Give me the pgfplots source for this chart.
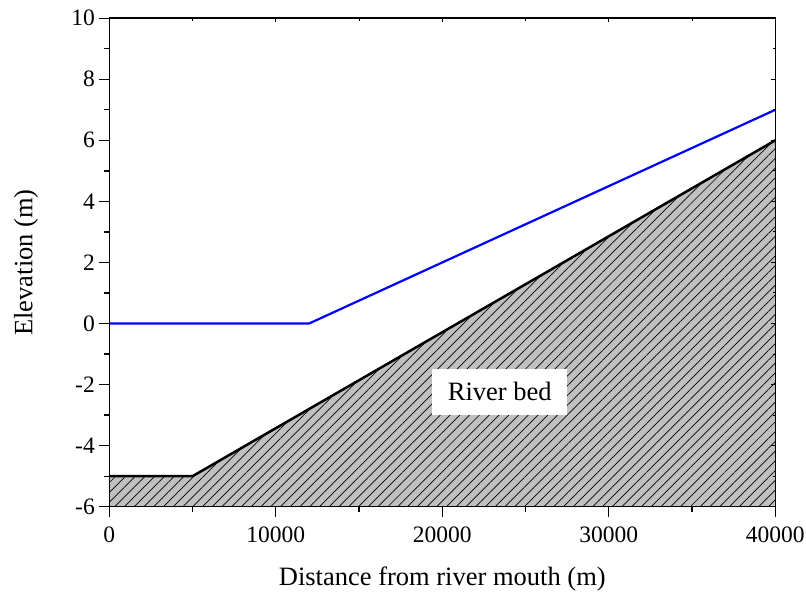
\documentclass[border=0pt]{standalone}
\usepackage{pgfplots}
\pgfplotsset{compat=1.18}
\usepackage{fontspec}
\setmainfont{Liberation Serif}
\usetikzlibrary{patterns.meta}
\definecolor{bedgray}{HTML}{C0C0C0}
\begin{document}
\begin{tikzpicture}
\pgfplotsset{
  common/.style={
    scale only axis, width=666bp, height=488.5bp,
    xmin=0, xmax=40000, ymin=-6, ymax=10,
    xtick={0,10000,20000,30000,40000},
    minor xtick={5000,15000,25000,35000},
    ytick={-6,-4,-2,0,2,4,6,8,10},
    minor ytick={-5,-3,-1,1,3,5,7,9},
    scaled x ticks=false,
    axis line style={line width=1.5bp, black},
    /pgf/number format/assume math mode=true,
    /pgf/number format/1000 sep={},
  }
}
\begin{axis}[common,
  at={(0,0)}, anchor=south west,
  axis on top,
  tick pos=left, tick align=outside,
  major tick length=10bp, minor tick length=5bp,
  every tick/.style={line width=1.3bp, black},
  ticklabel style={font=\fontsize{23.5bp}{28bp}\selectfont},
  xticklabel style={anchor=base, yshift=-26bp},
  yticklabel style={anchor=east, xshift=-1bp},
  xlabel={Distance from river mouth (m)},
  ylabel={Elevation (m)},
  every axis x label/.style={at={(axis description cs:0.5,-0.1603)}, anchor=base, font=\fontsize{26.5bp}{32bp}\selectfont},
  every axis y label/.style={at={(axis description cs:-0.1156,0.5)}, rotate=90, anchor=base, font=\fontsize{26.5bp}{32bp}\selectfont},
]
% river bed fill
\addplot[draw=none, fill=bedgray, forget plot] coordinates {(0,-6) (0,-5) (5000,-5) (40000,6) (40000,-6)} -- cycle;
\addplot[draw=none, pattern={Lines[angle=45,distance=6.9bp,line width=0.7bp]}, pattern color=black, forget plot]
  coordinates {(0,-6) (0,-5) (5000,-5) (40000,6) (40000,-6)} -- cycle;
% river bed line
\addplot[black, line width=2.5bp, forget plot] coordinates {(0,-5) (5000,-5) (40000,6)};
% water surface
\addplot[blue, line width=2.2bp, forget plot] coordinates {(0,0) (12000,0) (40000,7)};
\node[fill=white, minimum width=135bp, minimum height=46bp, inner sep=0pt,
  font=\fontsize{26.5bp}{32bp}\selectfont] at (axis cs:23450,-2.23) {River bed};
\end{axis}
\begin{axis}[common,
  at={(0,0)}, anchor=south west,
  tick pos=right, tick align=inside,
  major tick length=4bp, minor tick length=2.5bp,
  every tick/.style={line width=1bp, black},
  xticklabels={}, yticklabels={},
]
\end{axis}
\pgfresetboundingbox
\path (current axis.south west) ++(-109.3bp,-85.3bp) rectangle ++(806bp,592bp);
\end{tikzpicture}
\end{document}
